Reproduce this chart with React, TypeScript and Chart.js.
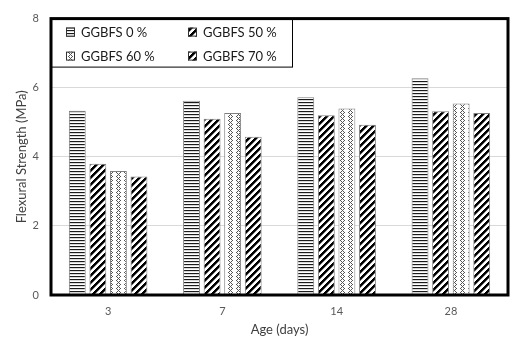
import React, { useEffect, useRef } from 'react';
import { Chart, registerables } from 'chart.js';

Chart.register(...registerables);

const categories = ['3', '7', '14', '28'];
const seriesLabels = ['GGBFS 0 %', 'GGBFS 50 %', 'GGBFS 60 %', 'GGBFS 70 %'];
const ggbfs0 = [5.33, 5.62, 5.72, 6.27];
const ggbfs50 = [3.8, 5.1, 5.2, 5.32];
const ggbfs60 = [3.59, 5.27, 5.4, 5.54];
const ggbfs70 = [3.43, 4.58, 4.93, 5.27];
const yMin = 0;
const yMax = 8;
const yStep = 2;

const FONT = 'Lato, "Open Sans", sans-serif';

function makeTile(size: number, fn: (x: number, y: number) => string | null): CanvasPattern {
  const c = document.createElement('canvas');
  c.width = size;
  c.height = size;
  const g = c.getContext('2d')!;
  g.fillStyle = '#ffffff';
  g.fillRect(0, 0, size, size);
  for (let x = 0; x < size; x++) {
    for (let y = 0; y < size; y++) {
      const col = fn(x, y);
      if (col) {
        g.fillStyle = col;
        g.fillRect(x, y, 1, 1);
      }
    }
  }
  return g.createPattern(c, 'repeat')!;
}

function horizontalPattern() {
  return makeTile(6, (_x, y) => (y % 3 === 0 ? '#1a1a1a' : y % 3 === 1 ? '#d8d8d8' : null));
}
function diagonalPattern() {
  return makeTile(7, (x, y) => {
    const v = (x + y) % 7;
    if (v === 0 || v === 1 || v === 2) return '#000000';
    if (v === 3) return '#808080';
    return null;
  });
}
function zigzagPattern() {
  return makeTile(8, (x, y) => {
    const a = (x + y) % 8;
    const b = (x - y + 16) % 8;
    if (a === 0 && y < 4) return '#555555';
    if (b === 0 && y >= 4) return '#555555';
    if (a === 4 && y >= 4) return '#555555';
    if (b === 4 && y < 4) return '#555555';
    return null;
  });
}

export default function App() {
  const ref = useRef<HTMLCanvasElement | null>(null);

  useEffect(() => {
    document.body.style.margin = '0';
    const canvas = ref.current!;
    const patterns = [horizontalPattern(), diagonalPattern(), zigzagPattern(), diagonalPattern()];
    const values = [ggbfs0, ggbfs50, ggbfs60, ggbfs70];

    const framePlugin = {
      id: 'frameAndLegend',
      afterDatasetsDraw(chart: any) {
        const { ctx, chartArea } = chart;
        ctx.save();
        const lx = chartArea.left;
        const ly = chartArea.top;
        const lw = 241;
        const lh = 48;
        ctx.fillStyle = '#ffffff';
        ctx.fillRect(lx, ly, lw, lh);
        ctx.strokeStyle = '#000000';
        ctx.lineWidth = 1;
        ctx.strokeRect(lx + 0.5, ly + 0.5, lw, lh);
        ctx.font = `13px ${FONT}`;
        ctx.textBaseline = 'middle';
        ctx.textAlign = 'left';
        chart.data.datasets.forEach((ds: any, i: number) => {
          const col = i % 2;
          const row = Math.floor(i / 2);
          const sx = lx + 15 + col * 122;
          const sy = ly + 13 + row * 24;
          ctx.fillStyle = ds.backgroundColor;
          ctx.fillRect(sx, sy - 4, 9, 9);
          ctx.strokeStyle = '#333333';
          ctx.strokeRect(sx + 0.5, sy - 3.5, 8, 8);
          ctx.fillStyle = '#1a1a1a';
          ctx.fillText(ds.label, sx + 15, sy + 1);
        });
        ctx.strokeStyle = '#000000';
        ctx.lineWidth = 3;
        ctx.strokeRect(chartArea.left, chartArea.top, chartArea.right - chartArea.left, chartArea.bottom - chartArea.top);
        ctx.restore();
      },
    };

    const chart = new Chart(canvas, {
      type: 'bar',
      data: {
        labels: categories,
        datasets: seriesLabels.map((label, i) => ({
          label,
          data: values[i],
          backgroundColor: patterns[i] as any,
          borderColor: '#7f7f7f',
          borderWidth: 1,
          barPercentage: 0.82,
          categoryPercentage: 0.72,
        })),
      },
      options: {
        responsive: false,
        animation: false,
        layout: { padding: { top: 7, right: 8, left: 0, bottom: 0 } },
        plugins: {
          legend: { display: false },
          tooltip: { enabled: false },
        },
        scales: {
          x: {
            grid: { display: false, drawTicks: false },
            border: { display: false },
            ticks: { color: '#595959', font: { family: FONT, size: 11 }, padding: 10 },
            title: {
              display: true,
              text: 'Age (days)',
              color: '#404040',
              font: { family: FONT, size: 13 },
              padding: { top: 0, bottom: 5 },
            },
            afterFit(scale: any) {
              scale.height = 48;
            },
          },
          y: {
            min: yMin,
            max: yMax,
            ticks: { stepSize: yStep, color: '#595959', font: { family: FONT, size: 11 }, padding: 12 },
            grid: { color: '#d9d9d9', drawTicks: false },
            border: { display: false },
            title: {
              display: true,
              text: 'Flexural Strength (MPa)',
              color: '#404040',
              font: { family: FONT, size: 13 },
              padding: { top: 14, bottom: 0 },
            },
            afterFit(scale: any) {
              scale.width = 51;
            },
          },
        },
      },
      plugins: [framePlugin],
    });
    return () => chart.destroy();
  }, []);

  return <canvas ref={ref} width={516} height={343} style={{ display: 'block' }} />;
}
